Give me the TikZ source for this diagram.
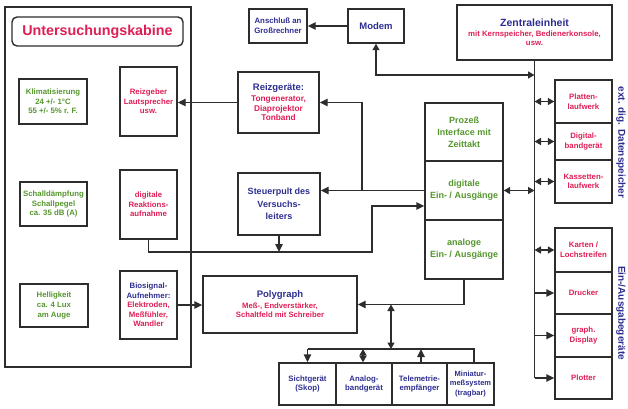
\documentclass[tikz,border=0pt]{standalone}
\usepackage{fontspec}
\setmainfont{Liberation Sans}
\usetikzlibrary{arrows.meta}
\definecolor{bl}{RGB}{45,45,145}
\definecolor{rd}{RGB}{222,30,85}
\definecolor{gn}{RGB}{85,150,45}
\definecolor{lc}{RGB}{45,45,45}
\newcommand{\fsz}[2]{\fontsize{#1}{#2}\selectfont}
\begin{document}
\begin{tikzpicture}[x=1pt,y=-1pt,
  bx/.style={draw=lc,line width=1.4pt,inner sep=1pt,align=center,font=\bfseries\fsz{7.8}{9.6}},
  wire/.style={draw=lc,line width=1.4pt},
  arr/.style={draw=lc,line width=1.4pt,-{Triangle[length=8pt,width=7.5pt]}},
  dbl/.style={draw=lc,line width=1.4pt,{Triangle[length=6.5pt,width=7pt]}-{Triangle[length=6.5pt,width=7pt]}}]
\useasboundingbox (0,0) rectangle (628,408);

% cabin
\node[bx,minimum width=186pt,minimum height=360pt] (cabin) at (98,187) {};
\node[bx,rounded corners=5pt,minimum width=171pt,minimum height=29pt,text=rd,font=\bfseries\fsz{14.3}{16}] (title) at (97.5,31.5) {Untersuchungskabine};
\node[bx,text=gn,minimum width=68pt,minimum height=45pt] (klima) at (53,101.5) {Klimatisierung\\24 +/- 1°C\\55 +/- 5\% r. F.};
\node[bx,text=rd,minimum width=57pt,minimum height=69pt] (reizgeber) at (148.5,101.5) {Reizgeber\\Lautsprecher\\usw.};
\node[bx,text=gn,minimum width=67pt,minimum height=44pt] (schall) at (53.5,204) {Schalldämpfung\\Schallpegel\\ca. 35 dB (A)};
\node[bx,text=rd,minimum width=57pt,minimum height=69pt] (reaktion) at (148.5,204.5) {digitale\\Reaktions-\\aufnahme};
\node[bx,text=gn,minimum width=68pt,minimum height=43pt] (hellig) at (54,305.5) {Helligkeit\\ca. 4 Lux\\am Auge};
\node[bx,text=bl,minimum width=57pt,minimum height=68pt] (bio) at (148.5,305) {Biosignal-\\Aufnehmer:\\\textcolor{rd}{Elektroden,}\\\textcolor{rd}{Meßfühler,}\\\textcolor{rd}{Wandler}};

% top
\node[bx,text=bl,minimum width=58pt,minimum height=34pt] (anschluss) at (278,26) {Anschluß an\\Großrechner};
\node[bx,text=bl,minimum width=56pt,minimum height=34pt,font=\bfseries\fsz{9.5}{11}] (modem) at (376,26) {Modem};
\node[bx,text=bl,minimum width=155pt,minimum height=55pt,font=\bfseries\fsz{7.8}{9}] (zentral) at (534.5,32.5) {{\fsz{10.5}{12}Zentraleinheit}\\[1pt]\textcolor{rd}{mit Kernspeicher, Bedienerkonsole,}\\\textcolor{rd}{usw.}};

% middle
\node[bx,text=bl,minimum width=81pt,minimum height=61pt,font=\bfseries\fsz{8.3}{9.7}] (reizgeraete) at (278.5,102.5) {{\fsz{9.5}{11}Reizgeräte:}\\[1pt]\textcolor{rd}{Tongenerator,}\\\textcolor{rd}{Diaprojektor}\\\textcolor{rd}{Tonband}};
\node[bx,text=bl,minimum width=82pt,minimum height=62pt,font=\bfseries\fsz{9}{12.5}] (steuer) at (279,204) {Steuerpult des\\Versuchs-\\leiters};
\node[bx,text=gn,minimum width=78pt,minimum height=58pt,font=\bfseries\fsz{9}{12}] (prozess) at (464,132) {Prozeß\\Interface mit\\Zeittakt};
\node[bx,text=gn,minimum width=78pt,minimum height=59pt,font=\bfseries\fsz{9}{12}] (digital) at (464,190.5) {digitale\\Ein- / Ausgänge};
\node[bx,text=gn,minimum width=78pt,minimum height=59pt,font=\bfseries\fsz{9}{12}] (analog) at (464,249.5) {analoge\\Ein- / Ausgänge};
\node[bx,text=bl,minimum width=154pt,minimum height=57pt,font=\bfseries\fsz{7.7}{9.5}] (polygraph) at (280,304.5) {{\fsz{9.5}{11}Polygraph}\\[1pt]\textcolor{rd}{Meß-, Endverstärker,}\\\textcolor{rd}{Schaltfeld mit Schreiber}};

% bottom
\node[bx,text=bl,minimum width=57pt,minimum height=42pt] (sicht) at (307.5,384) {Sichtgerät\\(Skop)};
\node[bx,text=bl,minimum width=56pt,minimum height=42pt] (analogband) at (364,384) {Analog-\\bandgerät};
\node[bx,text=bl,minimum width=55pt,minimum height=42pt] (tele) at (419.5,384) {Telemetrie-\\empfänger};
\node[bx,text=bl,minimum width=47pt,minimum height=42pt,font=\bfseries\fsz{7.5}{9.5}] (mini) at (470.5,384) {Miniatur-\\meßsystem\\(tragbar)};

% right
\node[bx,text=rd,minimum width=57pt,minimum height=43pt] (platten) at (583.5,101.5) {Platten-\\laufwerk};
\node[bx,text=rd,minimum width=57pt,minimum height=37pt] (digiband) at (583.5,141.5) {Digital-\\bandgerät};
\node[bx,text=rd,minimum width=57pt,minimum height=43pt] (kassette) at (583.5,181.5) {Kassetten-\\laufwerk};
\node[bx,text=rd,minimum width=57pt,minimum height=44pt] (karten) at (583.5,250) {Karten /\\Lochstreifen};
\node[bx,text=rd,minimum width=57pt,minimum height=42pt] (drucker) at (583.5,293) {Drucker};
\node[bx,text=rd,minimum width=57pt,minimum height=43pt] (graph) at (583.5,335.5) {graph.\\Display};
\node[bx,text=rd,minimum width=57pt,minimum height=42pt] (plotter) at (583.5,378) {Plotter};

\node[rotate=-90,text=bl,font=\bfseries\fsz{10}{12}] (extlbl) at (621,142.5) {ext. dig. Datenspeicher};
\node[rotate=-90,text=bl,font=\bfseries\fsz{10}{12}] (ealbl) at (621,313) {Ein-/Ausgabegeräte};

% bus
\draw[wire] (zentral.south) -- (zentral.south |- plotter.west);
\foreach \n in {platten,digiband,kassette,karten} \draw[dbl] (zentral.south |- \n.west) -- (\n.west);
\foreach \n in {drucker,graph,plotter} \draw[arr] (zentral.south |- \n.west) -- (\n.west);

\coordinate (m1) at (376,75);
\draw[dbl] (modem.south) |- (zentral.south |- m1);
\draw[arr] (modem.west) -- (anschluss.east);
\draw[dbl] (digital.east) -- (zentral.south |- digital.east);
\draw[arr] (digital.west) -- (digital.west -| steuer.east);
\coordinate (j1) at (362,190.5);
\draw[arr] (j1) |- (reizgeraete.east);
\draw[arr] (reizgeraete.west) -- (reizgeraete.west -| reizgeber.east);
\coordinate (r1) at (372,252);
\coordinate (r2) at (372,206);
\draw[arr] (reaktion.south) |- (r1) -- (r2) -- (r2 -| digital.west);
\draw[arr] (steuer.south) -- (steuer.south |- r1);
\draw[arr] (bio.east) -- (bio.east -| polygraph.west);
\draw[arr] (analog.south) |- (polygraph.east);
\coordinate (p1) at (391,304.5);
\coordinate (p2) at (391,349);
\draw[dbl] (p1) -- (p2);
\coordinate (d1) at (474,349);
\draw[wire] (d1 -| sicht.north) -- (d1) -- (d1 |- mini.north);
\draw[arr] (d1 -| sicht.north) -- (sicht.north);
\coordinate (ab) at (363,349);
\draw[dbl] (ab) -- (ab |- analogband.north);
\coordinate (tl) at (421,349);
\draw[arr] (tl |- tele.north) -- (tl);
\end{tikzpicture}
\end{document}
